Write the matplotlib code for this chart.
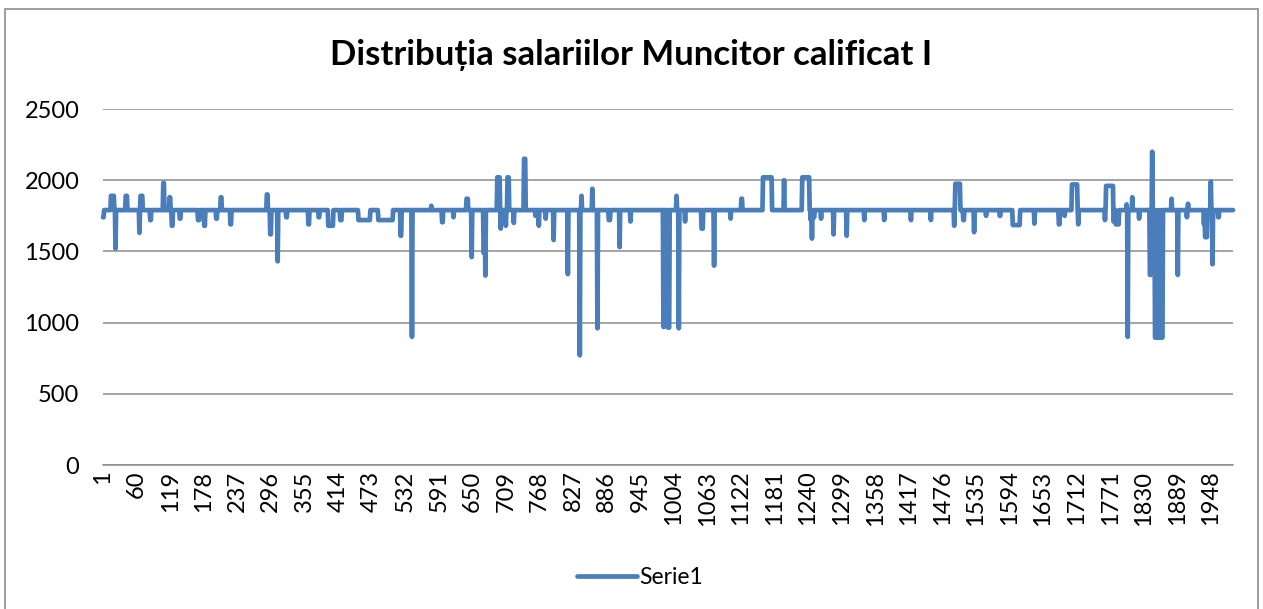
import numpy as np
import matplotlib.pyplot as plt
from matplotlib.patches import Rectangle

plt.rcParams['font.family'] = ['Lato', 'DejaVu Sans']

# salary series: most workers sit on one level,
# the runs below list (first index, last index, salary) where it differs
n_points = 1987
base_salary = 1790
runs = [
    (1, 2, 1740), (15, 20, 1890), (23, 23, 1520), (41, 43, 1890),
    (65, 65, 1630), (67, 70, 1890), (84, 85, 1720), (107, 108, 1980),
    (118, 119, 1880), (122, 123, 1680), (136, 137, 1730), (168, 170, 1720),
    (179, 180, 1680), (200, 201, 1730), (208, 209, 1880), (225, 226, 1690),
    (289, 290, 1900), (295, 296, 1620), (308, 308, 1430), (323, 324, 1740),
    (362, 363, 1690), (380, 381, 1740), (397, 405, 1680), (418, 420, 1720),
    (450, 470, 1720), (485, 510, 1720), (524, 525, 1610), (544, 544, 900),
    (578, 578, 1820), (597, 598, 1705), (617, 617, 1740), (640, 642, 1870),
    (649, 649, 1460), (670, 671, 1490), (673, 673, 1330), (694, 698, 2020),
    (700, 700, 1660), (709, 709, 1680), (712, 714, 2020), (723, 723, 1700),
    (741, 743, 2150), (761, 761, 1750), (767, 767, 1680), (779, 779, 1730),
    (793, 793, 1580), (818, 818, 1340), (839, 839, 770), (842, 842, 1890),
    (861, 861, 1940), (870, 870, 960), (890, 892, 1720), (909, 909, 1530),
    (928, 928, 1710), (986, 987, 970), (994, 996, 965), (1009, 1009, 1890),
    (1013, 1013, 960), (1024, 1024, 1710), (1053, 1055, 1660), (1075, 1075, 1400),
    (1104, 1104, 1730), (1123, 1124, 1870), (1161, 1176, 2020), (1198, 1198, 2000),
    (1230, 1242, 2020), (1245, 1245, 1720), (1247, 1247, 1590), (1250, 1251, 1740),
    (1263, 1263, 1730), (1285, 1285, 1620), (1308, 1308, 1610), (1339, 1339, 1720),
    (1374, 1374, 1720), (1421, 1421, 1720), (1456, 1456, 1720), (1497, 1497, 1680),
    (1499, 1507, 1975), (1513, 1514, 1720), (1532, 1532, 1635), (1553, 1553, 1750),
    (1577, 1578, 1750), (1600, 1612, 1685), (1638, 1638, 1695), (1681, 1682, 1690),
    (1691, 1691, 1750), (1704, 1713, 1970), (1715, 1715, 1690), (1762, 1762, 1720),
    (1764, 1776, 1960), (1777, 1778, 1710), (1781, 1786, 1690), (1800, 1800, 1830),
    (1802, 1802, 900), (1810, 1810, 1880), (1822, 1822, 1730), (1841, 1842, 1335),
    (1845, 1845, 2200), (1879, 1879, 1870), (1890, 1890, 1335), (1906, 1906, 1740),
    (1908, 1908, 1835), (1936, 1936, 1690), (1938, 1941, 1600), (1948, 1948, 1990),
    (1951, 1951, 1410), (1961, 1962, 1740),
]
# dense cluster of low salaries near the end
block_start = 1850
block_values = [895, 895, 1790, 895, 1500, 895, 895, 1790, 895, 895, 1790, 895, 900, 895]

salaries = np.full(n_points, base_salary, dtype=float)
for first, last, val in runs:
    salaries[first - 1:last] = val
salaries[block_start - 1:block_start - 1 + len(block_values)] = block_values
idx = np.arange(1, n_points + 1)
tick_pos = list(range(1, n_points + 1, 59))

W, H = 1263, 609
fig = plt.figure(figsize=(W / 100, H / 100), dpi=100)
ax = fig.add_axes([103 / W, 144 / H, 1130 / W, 356 / H])

ax.plot(idx, salaries, color='#4A7EBB', lw=3.4, solid_joinstyle='round',
        solid_capstyle='round', label='Serie1', clip_on=False, zorder=3)

ax.set_xlim(1, n_points)
ax.set_ylim(0, 2500)
ax.set_yticks(range(0, 2501, 500))
ax.set_xticks(tick_pos)
ax.set_xticklabels([str(t) for t in tick_pos], rotation=90)
ax.grid(axis='y', color='#8c8c8c', lw=1.1)
ax.set_axisbelow(True)
for s in ['top', 'right', 'left']:
    ax.spines[s].set_visible(False)
ax.spines['bottom'].set_color('#8c8c8c')
ax.spines['bottom'].set_linewidth(1.1)
ax.tick_params(axis='y', length=0, pad=17, labelsize=17)
ax.tick_params(axis='x', length=0, pad=4, labelsize=17)

fig.text(0.5, 1 - 55 / H, 'Distribuția salariilor Muncitor calificat I',
         ha='center', va='center', fontsize=25, fontweight='bold')

fig.legend(loc='center', bbox_to_anchor=(640 / W, 1 - 578 / H), frameon=False,
           fontsize=16.5, handlelength=2.6, handletextpad=0.1)

fig.patches.append(Rectangle((5 / W, -0.01), 1253 / W, 1 - 9 / H + 0.01,
                             transform=fig.transFigure, fill=False,
                             ec='#8c8c8c', lw=1.2))

fig.savefig('out.png', dpi=100)
